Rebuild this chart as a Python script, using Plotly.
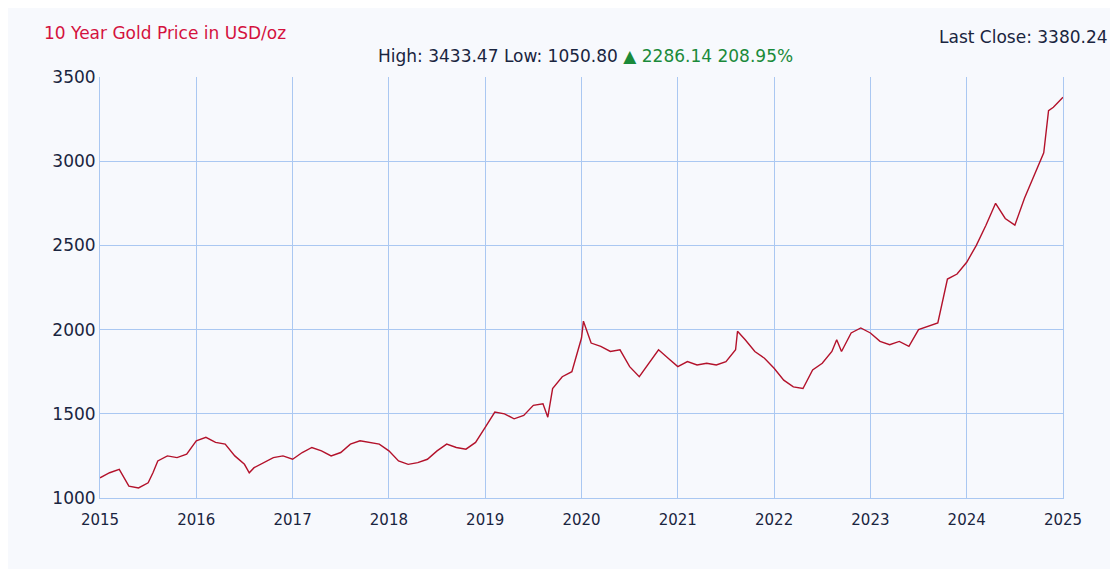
import plotly.graph_objects as go

# fractional year positions and prices
years = [2015.0, 2015.1, 2015.2, 2015.25, 2015.3, 2015.4, 2015.5, 2015.55, 2015.6, 2015.7, 2015.8, 2015.9,
         2016.0, 2016.1, 2016.2, 2016.3, 2016.4, 2016.5, 2016.55, 2016.6, 2016.7, 2016.8, 2016.9,
         2017.0, 2017.1, 2017.2, 2017.3, 2017.4, 2017.5, 2017.6, 2017.7, 2017.8, 2017.9,
         2018.0, 2018.1, 2018.2, 2018.3, 2018.4, 2018.5, 2018.6, 2018.7, 2018.8, 2018.9,
         2019.0, 2019.1, 2019.2, 2019.3, 2019.4, 2019.5, 2019.6, 2019.65, 2019.7, 2019.8, 2019.9,
         2020.0, 2020.02, 2020.1, 2020.2, 2020.3, 2020.4, 2020.5, 2020.6, 2020.7, 2020.8, 2020.9,
         2021.0, 2021.1, 2021.2, 2021.3, 2021.4, 2021.5, 2021.6, 2021.62, 2021.7, 2021.8, 2021.9,
         2022.0, 2022.1, 2022.2, 2022.3, 2022.4, 2022.5, 2022.6, 2022.65, 2022.7, 2022.8, 2022.9,
         2023.0, 2023.1, 2023.2, 2023.3, 2023.4, 2023.5, 2023.6, 2023.7, 2023.8, 2023.9,
         2024.0, 2024.1, 2024.2, 2024.3, 2024.4, 2024.5, 2024.6, 2024.7, 2024.8, 2024.85, 2024.9, 2024.95, 2025.0]
prices = [1120, 1150, 1170, 1120, 1070, 1060, 1090, 1150, 1220, 1250, 1240, 1260,
          1340, 1360, 1330, 1320, 1250, 1200, 1150, 1180, 1210, 1240, 1250,
          1230, 1270, 1300, 1280, 1250, 1270, 1320, 1340, 1330, 1320,
          1280, 1220, 1200, 1210, 1230, 1280, 1320, 1300, 1290, 1330,
          1420, 1510, 1500, 1470, 1490, 1550, 1560, 1480, 1650, 1720, 1750,
          1950, 2050, 1920, 1900, 1870, 1880, 1780, 1720, 1800, 1880, 1830,
          1780, 1810, 1790, 1800, 1790, 1810, 1880, 1990, 1940, 1870, 1830,
          1770, 1700, 1660, 1650, 1760, 1800, 1870, 1940, 1870, 1980, 2010,
          1980, 1930, 1910, 1930, 1900, 2000, 2020, 2040, 2300, 2330,
          2400, 2500, 2620, 2750, 2660, 2620, 2780, 2920, 3050, 3300, 3320, 3350, 3380]
tick_years = list(range(2015, 2026))

fig = go.Figure(go.Scatter(x=years, y=prices, mode="lines",
                           line=dict(color="#b3122b", width=1.4), hoverinfo="x+y"))

font = "DejaVu Sans"
grid = "#aac8f2"
fig.update_layout(
    width=1118, height=569, showlegend=False,
    paper_bgcolor="#f7f9fd", plot_bgcolor="#f7f9fd",
    margin=dict(l=92, r=63, t=69, b=79),
    font=dict(family=font, size=15, color="#1a2540"),
    xaxis=dict(range=[2015, 2025], tickvals=tick_years, ticktext=[str(t) for t in tick_years],
               showgrid=True, gridcolor=grid, gridwidth=1, zeroline=False,
               showline=True, linecolor=grid, ticks="", tickfont=dict(size=15),
               ticklabelstandoff=8),
    yaxis=dict(range=[1000, 3500], tickvals=[1000, 1500, 2000, 2500, 3000, 3500],
               showgrid=True, gridcolor=grid, gridwidth=1, zeroline=False,
               showline=True, linecolor=grid, mirror=True, ticks="", tickfont=dict(size=17)),
    annotations=[
        dict(text="10 Year Gold Price in USD/oz", x=-0.06, y=1.104, xref="paper", yref="paper",
             xanchor="left", yanchor="middle", showarrow=False, font=dict(color="#d4123e", size=17)),
        dict(text="Last Close: 3380.24", x=1.049, y=1.095, xref="paper", yref="paper",
             xanchor="right", yanchor="middle", showarrow=False, font=dict(color="#1a2540", size=17)),
        dict(text="High: 3433.47 Low: 1050.80 <span style='color:#1a8a3a'>▲ 2286.14 208.95%</span>",
             x=0.504, y=1.05, xref="paper", yref="paper", yanchor="middle", showarrow=False,
             font=dict(color="#1a2540", size=17)),
    ],
)
fig.write_html("out.html")
